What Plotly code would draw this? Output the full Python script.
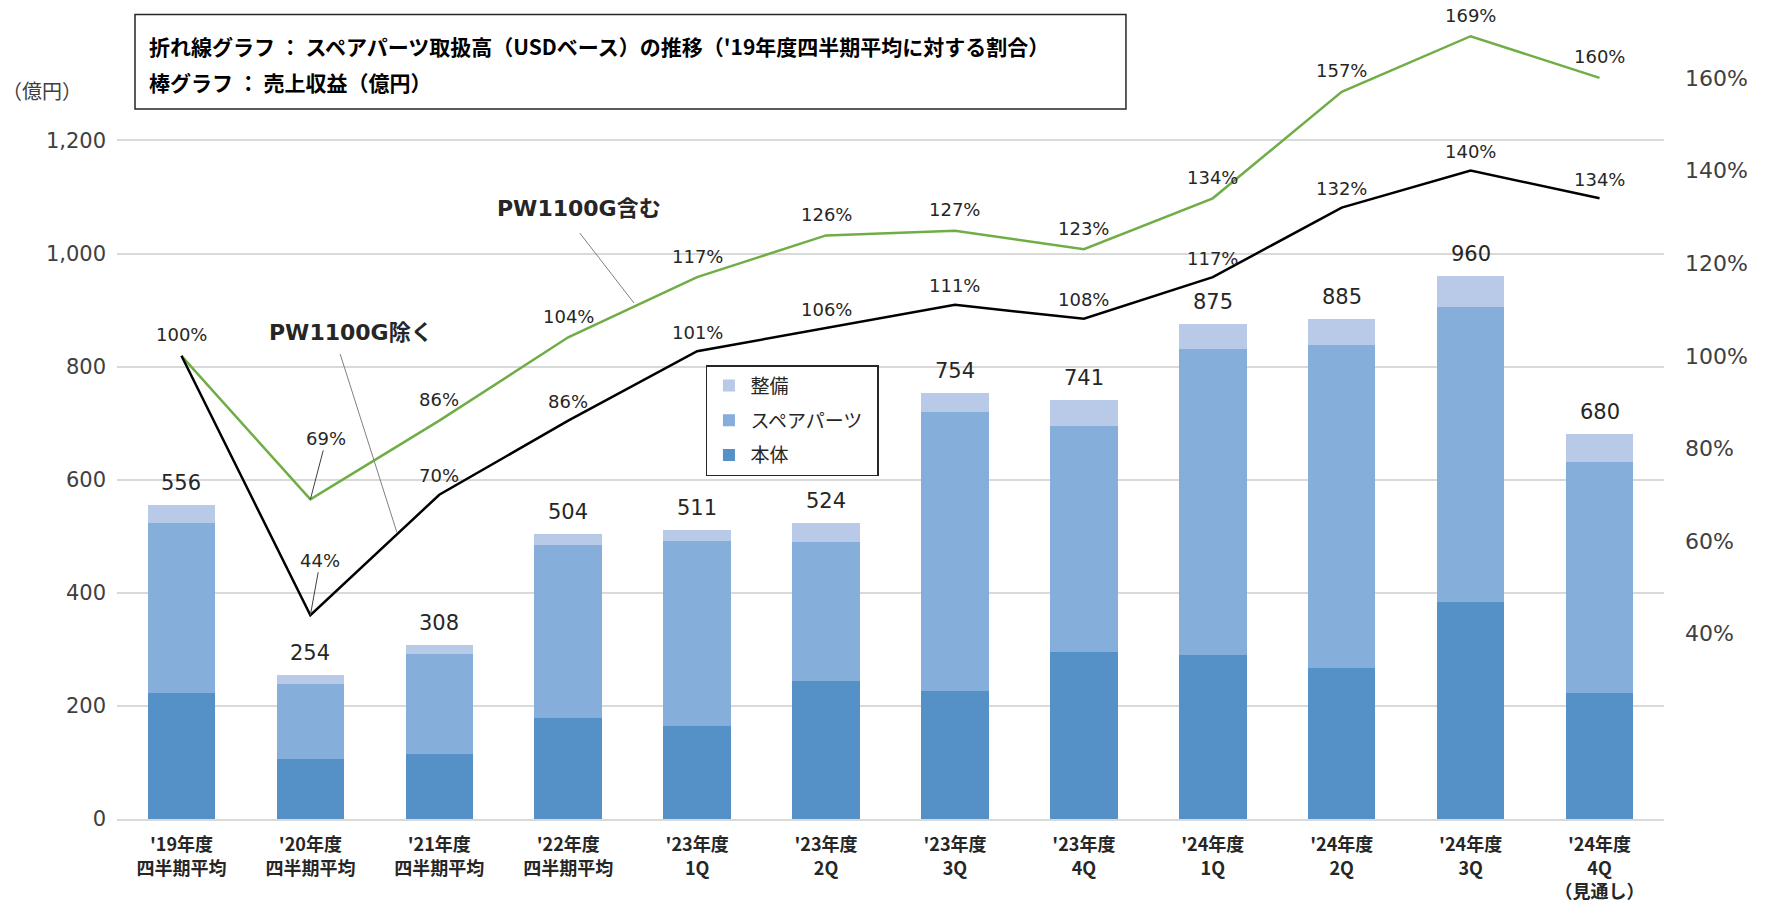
import plotly.graph_objects as go

# ---------------- data ----------------
categories = ["'19年度\n四半期平均", "'20年度\n四半期平均", "'21年度\n四半期平均", "'22年度\n四半期平均",
              "'23年度\n1Q", "'23年度\n2Q", "'23年度\n3Q", "'23年度\n4Q",
              "'24年度\n1Q", "'24年度\n2Q", "'24年度\n3Q", "'24年度\n4Q\n（見通し）"]
hontai = [222, 107, 115, 179, 165, 244, 227, 295, 290, 267, 384, 223]      # 本体
spare = [302, 132, 176, 305, 327, 245, 493, 400, 542, 572, 521, 408]       # スペアパーツ
seibi = [32, 15, 17, 20, 19, 35, 34, 46, 43, 46, 55, 49]                  # 整備
pw_incl = [100, 69, 86, 104, 117, 126, 127, 123, 134, 157, 169, 160]      # PW1100G含む (%)
pw_excl = [100, 44, 70, 86, 101, 106, 111, 108, 117, 132, 140, 134]       # PW1100G除く (%)
left_ticks = [0, 200, 400, 600, 800, 1000, 1200]
right_ticks = [40, 60, 80, 100, 120, 140, 160]

idx = list(range(len(categories)))
totals = [a + b + c for a, b, c in zip(hontai, spare, seibi)]
ticktext = ["<br>".join(f"<b>{ln}</b>" for ln in c.split("\n")) for c in categories]

C_SEIBI = "#B9C9E8"
C_SPARE = "#86AEDB"
C_HONTAI = "#5590C6"
C_GREEN = "#70AD47"
TXT = "#262626"
NUMFONT = "DejaVu Sans, Noto Sans CJK JP"
JPFONT = "Noto Sans CJK JP"

fig = go.Figure()
fig.add_trace(go.Bar(x=idx, y=hontai, name="本体", marker=dict(color=C_HONTAI, line=dict(width=0)),
                     legendrank=3, legendgroup="a"))
fig.add_trace(go.Bar(x=idx, y=spare, name="スペアパーツ\u2002", marker=dict(color=C_SPARE, line=dict(width=0)),
                     legendrank=2, legendgroup="b"))
fig.add_trace(go.Bar(x=idx, y=seibi, name="整備", marker=dict(color=C_SEIBI, line=dict(width=0)),
                     legendrank=1, legendgroup="c"))
fig.add_trace(go.Scatter(x=idx, y=pw_incl, yaxis="y2", mode="lines", showlegend=False,
                         line=dict(color=C_GREEN, width=2.5)))
fig.add_trace(go.Scatter(x=idx, y=pw_excl, yaxis="y2", mode="lines", showlegend=False,
                         line=dict(color="#000000", width=2.5)))

ann = []
# bar totals
for i, t in enumerate(totals):
    ann.append(dict(x=i, y=t, xref="x", yref="y", text=f"{t:,}", showarrow=False, yshift=22,
                    font=dict(family=NUMFONT, size=21, color=TXT)))
# line value labels
for i, v in enumerate(pw_incl):
    if i == 1:
        ann.append(dict(x=i, y=v, xref="x", yref="y2", text=f"{v}%", showarrow=True, ax=16, ay=-61,
                        arrowhead=0, arrowwidth=1, arrowcolor="#404040", standoff=0,
                        font=dict(family=NUMFONT, size=18, color=TXT)))
    else:
        ann.append(dict(x=i, y=v, xref="x", yref="y2", text=f"{v}%", showarrow=False, yshift=21,
                        font=dict(family=NUMFONT, size=18, color=TXT)))
for i, v in enumerate(pw_excl):
    if i == 0:
        continue
    if i == 1:
        ann.append(dict(x=i, y=v, xref="x", yref="y2", text=f"{v}%", showarrow=True, ax=10, ay=-55,
                        arrowhead=0, arrowwidth=1, arrowcolor="#404040", standoff=0,
                        font=dict(family=NUMFONT, size=18, color=TXT)))
    else:
        ann.append(dict(x=i, y=v, xref="x", yref="y2", text=f"{v}%", showarrow=False, yshift=19,
                        font=dict(family=NUMFONT, size=18, color=TXT)))
# series name labels
ann.append(dict(x=3.08, y=131.7, xref="x", yref="y2", text="<b>PW1100G含む</b>", showarrow=False,
                font=dict(family=NUMFONT, size=22, color=TXT)))
ann.append(dict(x=1.317, y=105.1, xref="x", yref="y2", text="<b>PW1100G除く</b>", showarrow=False,
                font=dict(family=NUMFONT, size=22, color=TXT)))
# unit label
ann.append(dict(x=-0.0488, y=0.912, xref="paper", yref="paper", xanchor="center", yanchor="middle",
                text="（億円）", showarrow=False,
                font=dict(family=JPFONT, size=20, color="#404040")))
# title box text
ann.append(dict(x=0.0197, y=0.9675, xref="paper", yref="paper", xanchor="left", yanchor="middle",
                text="<b>折れ線グラフ ： スペアパーツ取扱高（USDベース）の推移（'19年度四半期平均に対する割合）</b>",
                showarrow=False, font=dict(family=JPFONT, size=21, color="#000000")))
ann.append(dict(x=0.0197, y=0.9224, xref="paper", yref="paper", xanchor="left", yanchor="middle",
                text="<b>棒グラフ ： 売上収益（億円）</b>",
                showarrow=False, font=dict(family=JPFONT, size=21, color="#000000")))

shapes = [
    dict(type="rect", xref="paper", yref="paper", x0=0.01164, x1=0.6522, y0=0.8886, y1=1.0068,
         line=dict(color="#262626", width=1.5), fillcolor="white", layer="above"),
    dict(type="line", xref="x", yref="y2", x0=3.09, y0=126.5, x1=3.51, y1=111.4,
         line=dict(color="#808080", width=1)),
    dict(type="line", xref="x", yref="y2", x0=1.231, y0=100.4, x1=1.671, y1=61.9,
         line=dict(color="#808080", width=1)),
]

fig.update_layout(
    width=1766, height=907,
    margin=dict(l=117, r=102, t=20, b=88, autoexpand=False),
    paper_bgcolor="white", plot_bgcolor="white",
    barmode="stack", bargap=0.476,
    showlegend=True,
    legend=dict(x=0.3807, y=0.568, xanchor="left", yanchor="top", bgcolor="white",
                bordercolor="#262626", borderwidth=1.5, traceorder="grouped", tracegroupgap=7,
                itemwidth=33, font=dict(family=JPFONT, size=19, color=TXT)),
    xaxis=dict(range=[-0.5, 11.5], tickmode="array", tickvals=idx, ticktext=ticktext,
               showgrid=False, zeroline=False, showline=True, linecolor="#D9D9D9", linewidth=1.5,
               ticks="", ticklabelstandoff=9, automargin=False,
               tickfont=dict(family=JPFONT, size=18, color=TXT)),
    yaxis=dict(range=[0, 1413], tickmode="array", tickvals=left_ticks, tickformat=",",
               showgrid=True, gridcolor="#D9D9D9", gridwidth=1.5, zeroline=False,
               ticks="", ticklabelstandoff=10, automargin=False,
               tickfont=dict(family=NUMFONT, size=21, color="#404040")),
    yaxis2=dict(range=[0, 172.5], overlaying="y", side="right", tickmode="array",
                tickvals=right_ticks, ticktext=[f"{v}%" for v in right_ticks],
                showgrid=False, zeroline=False, ticks="", ticklabelstandoff=20, automargin=False,
                tickfont=dict(family=NUMFONT, size=22, color="#404040")),
    annotations=ann,
    shapes=shapes,
)

fig.write_html("out.html", config={"displayModeBar": False},
               post_script="document.body.style.margin='0';document.body.style.overflow='hidden';")
